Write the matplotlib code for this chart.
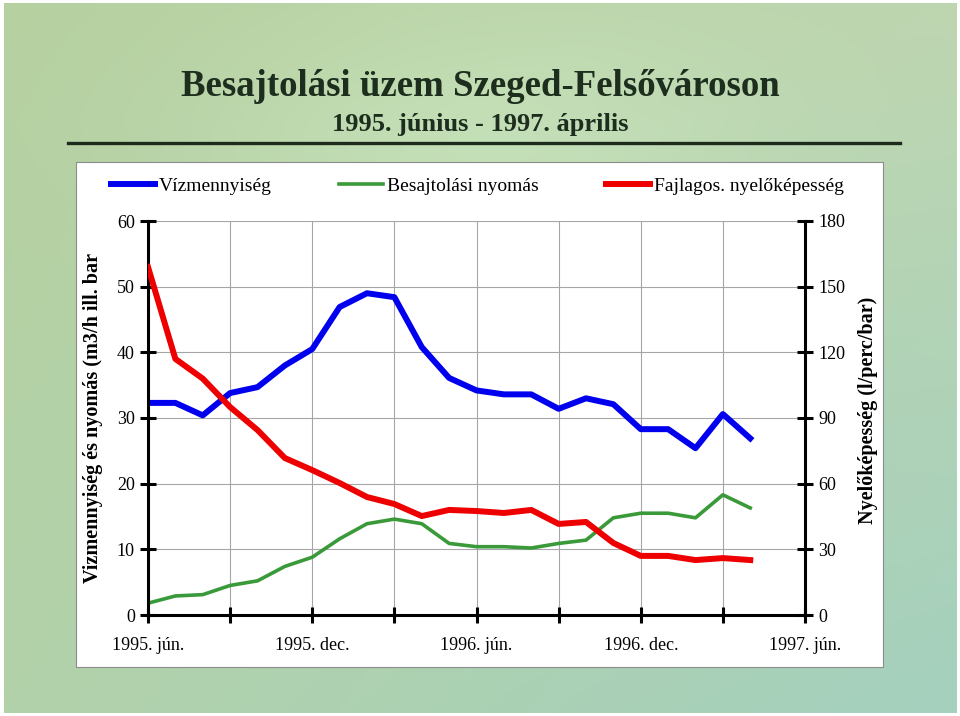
import numpy as np
import matplotlib
matplotlib.use('Agg')
import matplotlib.pyplot as plt
from matplotlib.patches import Rectangle
from matplotlib.lines import Line2D

# Havi adatok: 1995. június - 1997. április (23 hónap)
honap = np.arange(23)
vizmennyiseg = [32.3, 32.3, 30.4, 33.8, 34.7, 38.0, 40.5, 46.9, 49.0, 48.4, 40.8, 36.1,
                34.2, 33.6, 33.6, 31.4, 33.0, 32.1, 28.3, 28.3, 25.4, 30.6, 26.9]
nyomas = [1.8, 2.9, 3.1, 4.5, 5.2, 7.4, 8.8, 11.6, 13.9, 14.6, 13.9, 10.9,
          10.4, 10.4, 10.2, 10.9, 11.4, 14.8, 15.5, 15.5, 14.8, 18.3, 16.3]
nyelokepesseg = [159, 117, 108, 95, 84.5, 71.7, 66.2, 60.3, 53.9, 50.7, 45.2, 48.0,
                 47.5, 46.6, 48.0, 41.6, 42.5, 32.9, 27.0, 27.0, 25.1, 26.0, 25.1]

x_tick_pos = [0, 3, 6, 9, 12, 15, 18, 21, 24]
x_tick_labels = ['1995. jún.', '', '1995. dec.', '', '1996. jún.', '',
                 '1996. dec.', '', '1997. jún.']
bal_ticks = [0, 10, 20, 30, 40, 50, 60]
jobb_ticks = [0, 30, 60, 90, 120, 150, 180]

plt.rcParams['font.family'] = ['Liberation Serif', 'DejaVu Serif']

W, H = 960, 716
fig = plt.figure(figsize=(W / 100, H / 100), dpi=100, facecolor='white')

# zöldes háttér (sima színátmenet)
bg = fig.add_axes([4 / W, 3 / H, 953 / W, 710 / H], zorder=-3)
gy, gx = np.mgrid[0:1:200j, 0:1:260j]
tl = np.array([182, 208, 160]) / 255
tr = np.array([190, 214, 176]) / 255
bl = np.array([178, 210, 170]) / 255
br = np.array([164, 208, 190]) / 255
img = ((1 - gx)[..., None] * (1 - gy)[..., None] * tl + gx[..., None] * (1 - gy)[..., None] * tr
       + (1 - gx)[..., None] * gy[..., None] * bl + gx[..., None] * gy[..., None] * br)
bump = np.exp(-((gx - 0.5) ** 2 / 0.08 + (gy - 0.2) ** 2 / 0.03))
img = np.clip(img + 0.05 * bump[..., None], 0, 1)
bg.imshow(img, aspect='auto', interpolation='bilinear')
bg.axis('off')

# fehér panel
fig.patches.append(Rectangle((76 / W, 1 - 667 / H), (883 - 76) / W, (667 - 162) / H,
                             transform=fig.transFigure, facecolor='white',
                             edgecolor='#8c8c8c', lw=0.8, zorder=-2))

# cím és elválasztó vonal
fig.text(0.5, 1 - 86 / H, 'Besajtolási üzem Szeged-Felsővároson', ha='center', va='center',
         fontsize=26.5, fontweight='bold', color='#1e2e1e')
fig.text(0.5, 1 - 124 / H, '1995. június - 1997. április', ha='center', va='center',
         fontsize=19, fontweight='bold', color='#1e2e1e')
fig.lines.append(Line2D([68 / W, 900 / W], [1 - 143 / H, 1 - 143 / H], transform=fig.transFigure,
                        color='#1c2b1c', lw=2.4))

ax = fig.add_axes([148 / W, 1 - 615 / H, 657 / W, 394 / H])
ax.set_facecolor('none')
ax2 = ax.twinx()

l1, = ax.plot(honap, vizmennyiseg, color='#0000ee', lw=4.3, solid_joinstyle='round')
l2, = ax.plot(honap, nyomas, color='#3a9a3a', lw=2.6, solid_joinstyle='round')
l3, = ax2.plot(honap, nyelokepesseg, color='#ee0000', lw=4.3, solid_joinstyle='round')

ax.set_xlim(0, 24)
ax.set_ylim(0, 60)
ax2.set_ylim(0, 180)

ax.set_xticks(x_tick_pos)
ax.set_xticklabels(x_tick_labels)
ax.set_yticks(bal_ticks)
ax2.set_yticks(jobb_ticks)

ax.grid(True, color='#a6a6a6', lw=0.8)
ax.set_axisbelow(True)

for s in ['top', 'right']:
    ax.spines[s].set_visible(False)
for s in ['top', 'left', 'bottom']:
    ax2.spines[s].set_visible(False)
for s in ['left', 'bottom']:
    ax.spines[s].set_linewidth(2.2)
ax2.spines['right'].set_linewidth(2.2)

ax.tick_params(axis='y', direction='inout', length=11, width=2.2, labelsize=13, pad=4)
ax.tick_params(axis='x', direction='inout', length=11, width=2.2, labelsize=13, pad=10)
ax2.tick_params(axis='y', direction='inout', length=11, width=2.2, labelsize=13, pad=4)

fig.text(93 / W, 1 - 418 / H, 'Vizmennyiség és nyomás (m3/h ill. bar', rotation=90,
         ha='center', va='center', fontsize=14.5, fontweight='bold')
fig.text(868 / W, 1 - 410 / H, 'Nyelőképesség (l/perc/bar)', rotation=90,
         ha='center', va='center', fontsize=14.5, fontweight='bold')

fig.legend([l1, l2, l3], ['Vízmennyiség', 'Besajtolási nyomás', 'Fajlagos. nyelőképesség'],
           loc='center left', bbox_to_anchor=(111 / W, 1 - 186 / H), ncol=3, frameon=False,
           fontsize=14, handlelength=2.27, handletextpad=0.2, columnspacing=3.45,
           borderpad=0, borderaxespad=0)

fig.savefig('out.png', dpi=100)
